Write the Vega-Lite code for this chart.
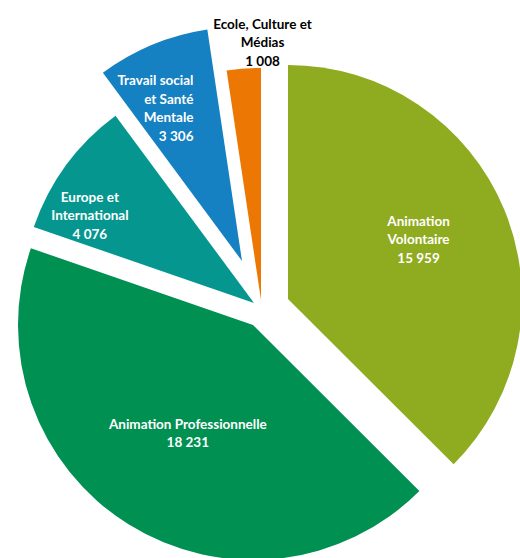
{
  "$schema": "https://vega.github.io/schema/vega-lite/v6.json",
  "width": 510,
  "height": 500,
  "autosize": {"type": "none"},
  "padding": {"left": 10, "top": 58, "right": 0, "bottom": 0},
  "background": "white",
  "config": {"view": {"stroke": null}},
  "data": {
    "values": [
      {"cat": "Animation Volontaire", "value": 15959, "order": 1, "label": "Animation\nVolontaire\n15 959"},
      {"cat": "Animation Professionnelle", "value": 18231, "order": 2, "label": "Animation Professionnelle\n18 231"},
      {"cat": "Europe et International", "value": 4076, "order": 3, "label": "Europe et\nInternational\n4 076"},
      {"cat": "Travail social et Santé Mentale", "value": 3306, "order": 4, "label": "Travail social\net Santé\nMentale\n3 306"},
      {"cat": "Ecole, Culture et Médias", "value": 1008, "order": 5, "label": "Ecole, Culture et\nMédias\n1 008"}
    ]
  },
  "encoding": {
    "theta": {"field": "value", "type": "quantitative", "stack": true},
    "order": {"field": "order", "type": "quantitative"}
  },
  "layer": [
    {
      "mark": {"type": "arc", "outerRadius": 234, "fill": "#8fab1f", "xOffset": 23, "yOffset": -9},
      "encoding": {"opacity": {"condition": {"test": "datum.cat === 'Animation Volontaire'", "value": 1}, "value": 0}}
    },
    {
      "mark": {"type": "arc", "outerRadius": 235, "fill": "#009152", "xOffset": -12, "yOffset": 17},
      "encoding": {"opacity": {"condition": {"test": "datum.cat === 'Animation Professionnelle'", "value": 1}, "value": 0}}
    },
    {
      "mark": {"type": "arc", "outerRadius": 233, "fill": "#05978f", "xOffset": -11, "yOffset": -5},
      "encoding": {"opacity": {"condition": {"test": "datum.cat === 'Europe et International'", "value": 1}, "value": 0}}
    },
    {
      "mark": {"type": "arc", "outerRadius": 234, "fill": "#1580c2", "xOffset": -23, "yOffset": -47},
      "encoding": {"opacity": {"condition": {"test": "datum.cat === 'Travail social et Santé Mentale'", "value": 1}, "value": 0}}
    },
    {
      "mark": {"type": "arc", "outerRadius": 232, "fill": "#ed7703", "xOffset": -4, "yOffset": -8},
      "encoding": {"opacity": {"condition": {"test": "datum.cat === 'Ecole, Culture et Médias'", "value": 1}, "value": 0}}
    },
    {
      "mark": {"type": "text", "radius": 150, "xOffset": 15, "yOffset": -29, "lineBreak": "\n", "lineHeight": 18.5, "font": "Lato", "fontWeight": "bold", "fontSize": 13.5, "fill": "white", "align": "center", "baseline": "middle"},
      "encoding": {"text": {"field": "label"}, "opacity": {"condition": {"test": "datum.cat === 'Animation Volontaire'", "value": 1}, "value": 0}}
    },
    {
      "mark": {"type": "text", "radius": 140, "xOffset": -3, "yOffset": -2, "lineBreak": "\n", "lineHeight": 18.5, "font": "Lato", "fontWeight": "bold", "fontSize": 13.5, "fill": "white", "align": "center", "baseline": "middle"},
      "encoding": {"text": {"field": "label"}, "opacity": {"condition": {"test": "datum.cat === 'Animation Professionnelle'", "value": 1}, "value": 0}}
    },
    {
      "mark": {"type": "text", "radius": 190, "xOffset": -22, "yOffset": 2, "lineBreak": "\n", "lineHeight": 18.5, "font": "Lato", "fontWeight": "bold", "fontSize": 13.5, "fill": "white", "align": "center", "baseline": "middle"},
      "encoding": {"text": {"field": "label"}, "opacity": {"condition": {"test": "datum.cat === 'Europe et International'", "value": 1}, "value": 0}}
    },
    {
      "mark": {"type": "text", "radius": 200, "xOffset": 5, "yOffset": -42, "lineBreak": "\n", "lineHeight": 18.5, "font": "Lato", "fontWeight": "bold", "fontSize": 13.5, "fill": "white", "align": "right", "baseline": "middle"},
      "encoding": {"text": {"field": "label"}, "opacity": {"condition": {"test": "datum.cat === 'Travail social et Santé Mentale'", "value": 1}, "value": 0}}
    },
    {
      "mark": {"type": "text", "radius": 262, "xOffset": 17, "yOffset": -22, "lineBreak": "\n", "lineHeight": 18.5, "font": "Lato", "fontWeight": "bold", "fontSize": 13.5, "fill": "black", "align": "center", "baseline": "middle"},
      "encoding": {"text": {"field": "label"}, "opacity": {"condition": {"test": "datum.cat === 'Ecole, Culture et Médias'", "value": 1}, "value": 0}}
    }
  ]
}
